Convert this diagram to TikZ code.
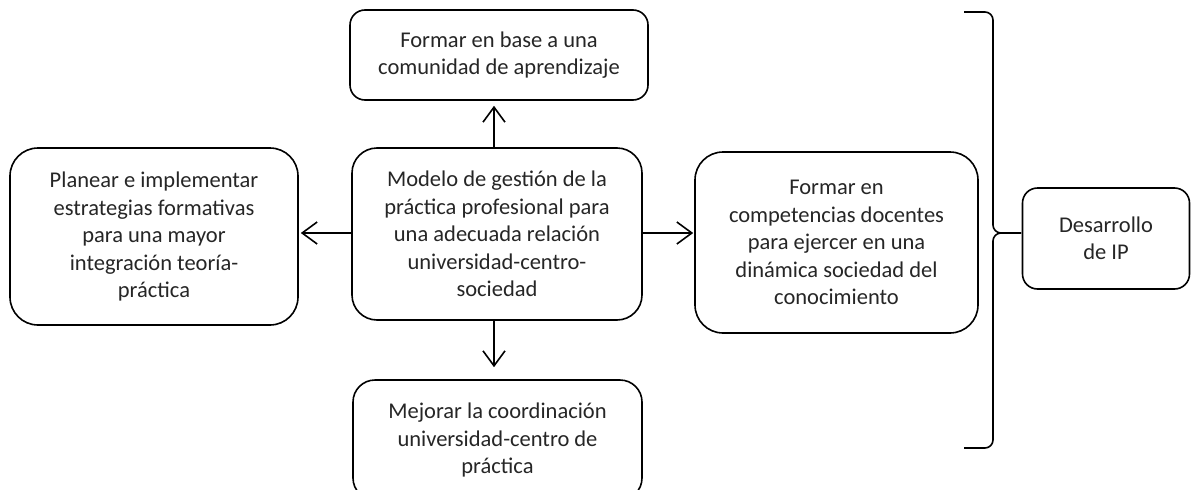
\documentclass[tikz,border=0pt]{standalone}
\usepackage{fontspec}
\setmainfont{Carlito}
\usetikzlibrary{arrows.meta}
\definecolor{txt}{RGB}{38,38,38}
\tikzset{
  box/.style={draw=black, line width=1.6pt, fill=white, align=center, text=txt,
    font=\fontsize{22.5}{27.5}\selectfont, inner sep=0pt},
  conn/.style={line width=1.6pt, -{Straight Barb[length=15pt,width=22pt,line width=1.6pt]}},
  brace/.style={line width=1.6pt, rounded corners=8pt}
}
\begin{document}
\begin{tikzpicture}[x=1pt,y=-1pt]
\useasboundingbox (0,0) rectangle (1192,490);
\node[box, rounded corners=15pt, minimum width=298pt, minimum height=90pt] (top) at (499,55)
  {Formar en base a una\\comunidad de aprendizaje};
\node[box, rounded corners=25pt, minimum width=290pt, minimum height=172pt] (center) at (497,234)
  {Modelo de gestión de la\\práctica profesional para\\una adecuada relación\\universidad-centro-\\sociedad};
\node[box, rounded corners=28pt, minimum width=288pt, minimum height=177pt] (left) at (154,236.5)
  {Planear e implementar\\estrategias formativas\\para una mayor\\integración teoría-\\práctica};
\node[box, rounded corners=28pt, minimum width=283pt, minimum height=181pt] (right) at (836.5,242.5)
  {Formar en\\competencias docentes\\para ejercer en una\\dinámica sociedad del\\conocimiento};
\node[box, rounded corners=22pt, minimum width=289pt, minimum height=120pt] (bottom) at (497.5,440)
  {Mejorar la coordinación\\universidad-centro de\\práctica};
\node[box, rounded corners=15pt, minimum width=167pt, minimum height=101pt] (ip) at (1106,238.5)
  {Desarrollo\\de IP};
% connectors
\draw[conn, shorten >=5pt] ([xshift=-3pt]center.north) -- ([xshift=-5pt]top.south);
\draw[conn, shorten >=12pt] ([xshift=-3pt]center.south) -- ([xshift=-3.5pt]bottom.north);
\draw[conn, shorten >=2pt] (center.west |- 0,233) -- (left.east |- 0,233);
\draw[conn, shorten >=1pt] (center.east |- 0,233) -- (right.west |- 0,233);
% brace
\coordinate (bt) at (964,12);
\coordinate (bb) at (964,448);
\coordinate (tip) at (1021,233);
\draw[brace] (bt) -- (993,12) -- (993,233) -- (tip);
\draw[brace] (bb) -- (993,448) -- (993,233) -- (tip);
\end{tikzpicture}
\end{document}
